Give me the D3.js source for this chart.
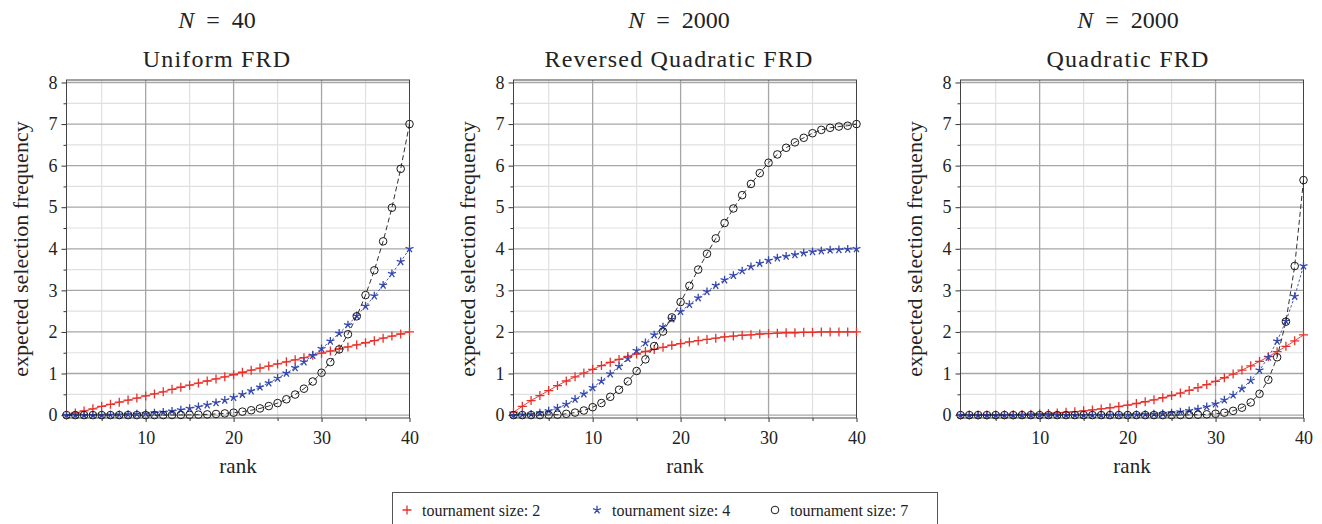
<!DOCTYPE html>
<html lang="en">
<head>
<meta charset="UTF-8">
<title>Tournament selection frequency</title>
<style>
  body { margin: 0; background: #fff; }
  svg text { font-family: "Liberation Serif", "Times New Roman", serif; fill: #222; }
</style>
<script src="https://cdn.jsdelivr.net/npm/d3@7"></script>
</head>
<body>
<div id="chart"></div>
<script>
// ranks on the x axis
var ranks = [1,2,3,4,5,6,7,8,9,10,11,12,13,14,15,16,17,18,19,20,
             21,22,23,24,25,26,27,28,29,30,31,32,33,34,35,36,37,38,39,40];

// panel 1: N = 40, uniform FRD
var uniformT2 = [0,0.05,0.10,0.15,0.21,0.26,0.31,0.36,0.41,0.46,0.51,0.56,0.62,0.67,0.72,0.77,0.82,0.87,0.92,0.97,
                 1.03,1.08,1.13,1.18,1.23,1.28,1.33,1.38,1.44,1.49,1.54,1.59,1.64,1.69,1.74,1.79,1.85,1.90,1.95,2.00];
var uniformT4 = [0,0,0,0,0.002,0.004,0.009,0.015,0.025,0.037,0.053,0.072,0.096,0.125,0.159,0.199,0.245,0.298,0.357,0.424,
                 0.499,0.582,0.674,0.775,0.886,1.007,1.138,1.280,1.434,1.599,1.777,1.967,2.171,2.388,2.619,2.865,3.125,3.401,3.692,4.000];
var uniformT7 = [0,0,0,0,0,0,0,0,0,0,0,0.001,0.002,0.004,0.006,0.011,0.017,0.027,0.040,0.058,
                 0.083,0.116,0.160,0.217,0.289,0.380,0.494,0.635,0.808,1.019,1.274,1.580,1.944,2.376,2.886,3.483,4.179,4.988,5.923,7.000];

// panel 2: N = 2000, reversed quadratic FRD
var revQuadT2 = [0.07,0.21,0.35,0.47,0.59,0.71,0.82,0.92,1.01,1.10,1.19,1.27,1.34,1.41,1.47,1.53,1.58,1.63,1.68,1.72,
                 1.76,1.79,1.82,1.85,1.88,1.90,1.92,1.93,1.95,1.96,1.97,1.98,1.98,1.99,1.99,2.00,2.00,2.00,2.00,2.00];
var revQuadT4 = [0,0.01,0.02,0.05,0.10,0.17,0.26,0.38,0.51,0.66,0.82,0.99,1.17,1.36,1.55,1.74,1.93,2.12,2.31,2.49,
                 2.66,2.82,2.97,3.12,3.25,3.36,3.47,3.57,3.65,3.72,3.78,3.82,3.86,3.90,3.93,3.95,3.97,3.98,3.99,4.00];
var revQuadT7 = [0,0,0,0,0.005,0.01,0.03,0.06,0.11,0.19,0.29,0.44,0.61,0.81,1.06,1.34,1.66,2.01,2.35,2.72,
                 3.11,3.50,3.88,4.25,4.62,4.97,5.29,5.56,5.82,6.07,6.27,6.43,6.56,6.67,6.78,6.86,6.91,6.94,6.96,7.00];

// panel 3: N = 2000, quadratic FRD
var quadT2 = [0,0,0.001,0.002,0.004,0.007,0.010,0.016,0.022,0.030,0.040,0.052,0.066,0.083,0.102,0.124,0.148,0.176,0.207,0.241,
              0.279,0.321,0.367,0.417,0.471,0.530,0.593,0.661,0.735,0.813,0.898,0.987,1.083,1.184,1.292,1.405,1.526,1.653,1.787,1.928];
var quadT4 = [0,0,0,0,0,0,0,0,0,0,0,0,0,0,0.001,0.001,0.002,0.003,0.004,0.007,
              0.011,0.017,0.025,0.036,0.052,0.075,0.105,0.145,0.199,0.270,0.362,0.482,0.636,0.832,1.079,1.390,1.779,2.261,2.856,3.587];
var quadT7 = [0,0,0,0,0,0,0,0,0,0,0,0,0,0,0,0,0,0,0,0,
              0,0,0,0,0.001,0.002,0.005,0.009,0.018,0.032,0.058,0.102,0.178,0.304,0.512,0.850,1.391,2.247,3.586,5.652];

var panelN = ["40", "2000", "2000"];
var panelTitles = ["Uniform FRD", "Reversed Quadratic FRD", "Quadratic FRD"];
var panelData = [[uniformT2, uniformT4, uniformT7], [revQuadT2, revQuadT4, revQuadT7], [quadT2, quadT4, quadT7]];
var seriesNames = ["tournament size: 2", "tournament size: 4", "tournament size: 7"];
var yTicks = [0,1,2,3,4,5,6,7,8];
var yMinorTicks = [0.5,1.5,2.5,3.5,4.5,5.5,6.5,7.5];
var xTicks = [10,20,30,40];
var xMinorTicks = [5,15,25,35];

var width = 1322, height = 524;
var panelLeft = [66.5, 513.5, 960.5];
var titleCenter = [217, 679, 1128];
var plotW = 343, plotTop = 80, plotBottom = 418;

var colors = ["#e8302a", "#3447ad", "#1a1a1a"];
var dashes = [null, "2.5,2", "5,3"];

var svg = d3.select("#chart").append("svg")
    .attr("width", width)
    .attr("height", height);

var y = d3.scaleLinear().domain([-0.07, 8.06]).range([plotBottom, plotTop]);

// marker drawing
function drawMarker(sel, k, color) {
  if (k === 0) {
    sel.append("path").attr("d", "M-4.5,0H4.5M0,-4.5V4.5")
      .attr("stroke", color).attr("stroke-width", 1.3).attr("fill", "none");
  } else if (k === 1) {
    var d = "";
    for (var a = 0; a < 5; a++) {
      var ang = -Math.PI / 2 + a * 2 * Math.PI / 5;
      d += "M0,0L" + (4.2 * Math.cos(ang)).toFixed(2) + "," + (4.2 * Math.sin(ang)).toFixed(2);
    }
    sel.append("path").attr("d", d)
      .attr("stroke", color).attr("stroke-width", 1.3).attr("fill", "none");
  } else {
    sel.append("circle").attr("r", 3.8)
      .attr("stroke", color).attr("stroke-width", 1).attr("fill", "none");
  }
}

panelData.forEach(function(series, p) {
  var left = panelLeft[p];
  var x = d3.scaleLinear().domain([1, 40]).range([left, left + plotW]);
  var g = svg.append("g");

  // minor grid
  g.selectAll(".gxm").data(xMinorTicks).enter().append("line")
    .attr("x1", function(d) { return x(d); }).attr("x2", function(d) { return x(d); })
    .attr("y1", plotTop).attr("y2", plotBottom)
    .attr("stroke", "#e0e0e0").attr("stroke-width", 1.2);
  g.selectAll(".gym").data(yMinorTicks).enter().append("line")
    .attr("x1", left).attr("x2", left + plotW)
    .attr("y1", function(d) { return y(d); }).attr("y2", function(d) { return y(d); })
    .attr("stroke", "#e0e0e0").attr("stroke-width", 1.2);
  // major grid
  g.selectAll(".gx").data([10,20,30]).enter().append("line")
    .attr("x1", function(d) { return x(d); }).attr("x2", function(d) { return x(d); })
    .attr("y1", plotTop).attr("y2", plotBottom)
    .attr("stroke", "#a6a6a6").attr("stroke-width", 1.3);
  g.selectAll(".gy").data(yTicks).enter().append("line")
    .attr("x1", left).attr("x2", left + plotW)
    .attr("y1", function(d) { return y(d); }).attr("y2", function(d) { return y(d); })
    .attr("stroke", "#a6a6a6").attr("stroke-width", 1.3);

  // axes (ticks outward)
  var yAxis = d3.axisLeft(y).tickValues(yTicks).tickSize(5).tickPadding(4).tickFormat(d3.format("d"));
  var yMinor = d3.axisLeft(y).tickValues(yMinorTicks).tickSize(3).tickFormat("");
  var xAxis = d3.axisBottom(x).tickValues(xTicks).tickSize(4).tickPadding(9).tickFormat(d3.format("d"));
  var xMinor = d3.axisBottom(x).tickValues(xMinorTicks).tickSize(3).tickFormat("");

  [yAxis, yMinor].forEach(function(ax) {
    var a = g.append("g").attr("transform", "translate(" + left + ",0)").call(ax);
    a.attr("font-family", null);
    a.select(".domain").remove();
    a.selectAll("line").attr("stroke", "#333");
    a.selectAll("text").attr("font-size", 18).attr("fill", "#222");
  });
  [xAxis, xMinor].forEach(function(ax) {
    var a = g.append("g").attr("transform", "translate(0," + plotBottom + ")").call(ax);
    a.attr("font-family", null);
    a.select(".domain").remove();
    a.selectAll("line").attr("stroke", "#333");
    a.selectAll("text").attr("font-size", 18).attr("fill", "#222");
  });

  // frame
  g.append("rect")
    .attr("x", left).attr("y", plotTop)
    .attr("width", plotW).attr("height", plotBottom - plotTop)
    .attr("fill", "none").attr("stroke", "#444").attr("stroke-width", 1);

  // series
  var line = d3.line().x(function(d, i) { return x(ranks[i]); }).y(function(d) { return y(d); });
  series.forEach(function(vals, k) {
    g.append("path").datum(vals)
      .attr("d", line)
      .attr("fill", "none")
      .attr("stroke", colors[k])
      .attr("stroke-width", 0.9)
      .attr("stroke-dasharray", dashes[k]);
    g.selectAll(".m" + k).data(vals).enter().append("g")
      .attr("transform", function(d, i) { return "translate(" + x(ranks[i]) + "," + y(d) + ")"; })
      .each(function() { drawMarker(d3.select(this), k, colors[k]); });
  });

  // titles
  var tx = titleCenter[p];
  var t1 = svg.append("text").attr("x", tx).attr("y", 28)
    .attr("text-anchor", "middle").attr("font-size", 24);
  t1.append("tspan").attr("font-style", "italic").text("N");
  t1.append("tspan").text("\u2002=\u2002" + panelN[p]);
  svg.append("text").attr("x", tx).attr("y", 67)
    .attr("text-anchor", "middle").attr("font-size", 24).attr("letter-spacing", 1.2)
    .text(panelTitles[p]);

  // axis labels
  var cx = left + plotW / 2;
  svg.append("text").attr("x", cx).attr("y", 473)
    .attr("text-anchor", "middle").attr("font-size", 21).text("rank");
  svg.append("text")
    .attr("transform", "translate(" + (left - 39) + "," + ((plotTop + plotBottom) / 2) + ") rotate(-90)")
    .attr("text-anchor", "middle").attr("font-size", 22).text("expected selection frequency");
});

// legend
var legend = svg.append("g");
legend.append("rect")
  .attr("x", 392.5).attr("y", 492.5).attr("width", 545).attr("height", 40)
  .attr("fill", "#fff").attr("stroke", "#555").attr("stroke-width", 1);
var legendX = [407, 597, 775];
seriesNames.forEach(function(name, k) {
  var e = legend.append("g").attr("transform", "translate(" + legendX[k] + ",510)");
  drawMarker(e, k, colors[k]);
  e.append("text").attr("x", 15).attr("y", 5.5).attr("font-size", 16).text(name);
});
</script>
</body>
</html>
